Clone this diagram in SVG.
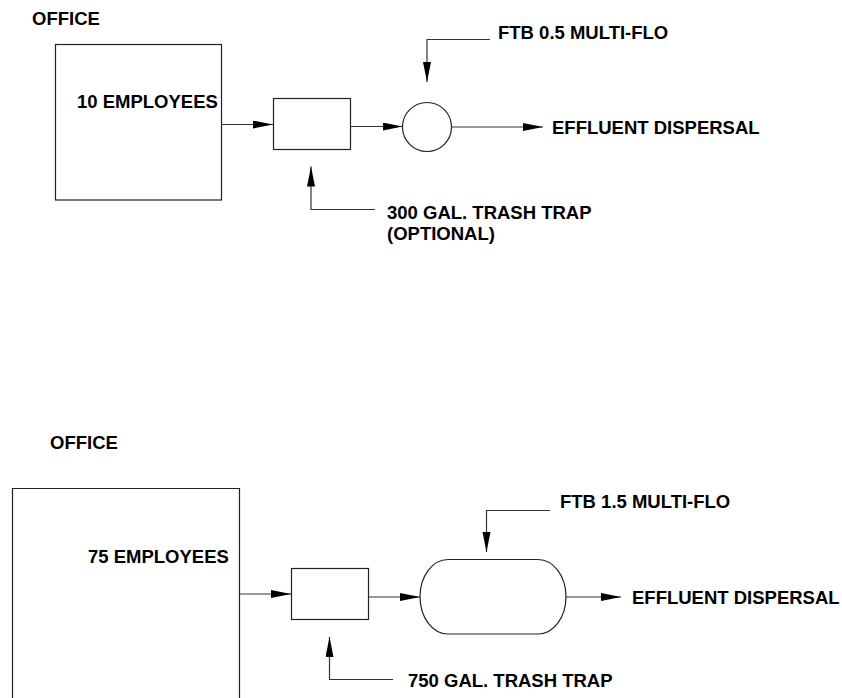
<svg xmlns="http://www.w3.org/2000/svg" width="842" height="698" viewBox="0 0 842 698">
<style>
.t{font-family:"Liberation Sans",Arial,sans-serif;font-weight:bold;font-size:18.5px;fill:#000}
.s{fill:none;stroke:#222;stroke-width:1.2}
.c{fill:none;stroke:#333;stroke-width:1.2}
</style>
<defs>
<marker id="ah" markerUnits="userSpaceOnUse" markerWidth="21" markerHeight="9" refX="20" refY="4" orient="auto">
<path d="M0,0 L20,4 L0,8 Z" fill="#000"/>
</marker>
</defs>
<rect width="842" height="698" fill="#fff"/>
<g id="office1">
<text class="t" x="32" y="25">OFFICE</text>
<rect class="s" x="55.5" y="44.5" width="166" height="155.5"/>
<text class="t" x="77" y="108">10 EMPLOYEES</text>
</g>
<g id="trap1">
<rect class="s" x="273.5" y="98.5" width="77" height="51"/>
<text class="t" x="387" y="219">300 GAL. TRASH TRAP</text>
<text class="t" x="387" y="240">(OPTIONAL)</text>
</g>
<g id="ftb1">
<circle class="s" cx="427" cy="127" r="24.5"/>
<text class="t" x="498" y="39">FTB 0.5 MULTI-FLO</text>
</g>
<g id="effluent1">
<text class="t" x="552" y="134">EFFLUENT DISPERSAL</text>
</g>
<g id="office2">
<text class="t" x="50" y="449">OFFICE</text>
<path class="s" d="M12.5,710 V488.5 H239.5 V710"/>
<text class="t" x="88" y="563">75 EMPLOYEES</text>
</g>
<g id="trap2">
<rect class="s" x="291.5" y="568.5" width="77" height="51"/>
<text class="t" x="408" y="687">750 GAL. TRASH TRAP</text>
</g>
<g id="ftb2">
<path class="s" d="M448,559.5 H538 A28,37.25 0 0 1 538,634 H448 A28,37.25 0 0 1 448,559.5 Z"/>
<text class="t" x="560" y="508">FTB 1.5 MULTI-FLO</text>
</g>
<g id="effluent2">
<text class="t" x="632" y="604">EFFLUENT DISPERSAL</text>
</g>
<g id="connectors">
<path class="c" d="M221.5,124.5 H273" marker-end="url(#ah)"/>
<path class="c" d="M350.5,126.5 H402.5" marker-end="url(#ah)"/>
<path class="c" d="M451.5,127 H543" marker-end="url(#ah)"/>
<path class="c" d="M490,39.5 H427 V82" marker-end="url(#ah)"/>
<path class="c" d="M375,209.5 H311 V166.5" marker-end="url(#ah)"/>
<path class="c" d="M239.5,594 H291" marker-end="url(#ah)"/>
<path class="c" d="M368.5,597 H420" marker-end="url(#ah)"/>
<path class="c" d="M566,597 H621" marker-end="url(#ah)"/>
<path class="c" d="M550,510.5 H486.5 V552" marker-end="url(#ah)"/>
<path class="c" d="M393,679.5 H329.5 V637" marker-end="url(#ah)"/>
</g>
</svg>
